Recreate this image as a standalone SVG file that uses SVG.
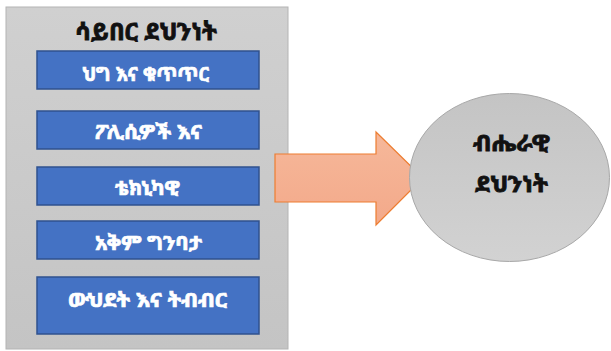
<svg xmlns="http://www.w3.org/2000/svg" width="611" height="351" viewBox="0 0 611 351">
<defs>
<linearGradient id="gGray" x1="0" y1="0" x2="0" y2="1"><stop offset="0" stop-color="#d0d0d0"/><stop offset="1" stop-color="#c4c4c4"/></linearGradient>
<linearGradient id="gArrow" x1="0" y1="0" x2="0" y2="1"><stop offset="0" stop-color="#f6b89a"/><stop offset="1" stop-color="#f3a98a"/></linearGradient>
<linearGradient id="gEll" x1="0" y1="0" x2="0" y2="1"><stop offset="0" stop-color="#c4c4c4"/><stop offset="1" stop-color="#d2d2d2"/></linearGradient>
</defs>
<style>
.t{font-family:"Noto Sans Ethiopic","Abyssinica SIL","DejaVu Sans","Noto Sans",sans-serif;font-weight:bold;text-anchor:middle;dominant-baseline:central}
.blue rect{fill:#4472c4;stroke:#2f528f;stroke-width:1.5}
.blue text{fill:#ffffff;stroke:#ffffff;stroke-width:0.7;font-size:20px}
.dark{fill:#111111;stroke:#111111;stroke-width:0.8}
</style>
<rect width="611" height="351" fill="#ffffff"/>
<g id="container">
<rect x="6" y="7" width="282" height="342" fill="url(#gGray)" stroke="#b4b4b4" stroke-width="1"/>
<text class="t dark" x="146" y="30" font-size="24" textLength="142" lengthAdjust="spacingAndGlyphs">ሳይበር ደህንነት</text>
</g>
<g id="box1" class="blue"><rect x="37" y="51" width="222" height="38"/><text class="t" x="145.5" y="73" textLength="127" lengthAdjust="spacingAndGlyphs">ህግ እና ቁጥጥር</text></g>
<g id="box2" class="blue"><rect x="37" y="111" width="222" height="38"/><text class="t" x="148.5" y="131.5" textLength="107" lengthAdjust="spacingAndGlyphs">ፖሊሲዎች እና</text></g>
<g id="box3" class="blue"><rect x="37" y="167" width="222" height="38"/><text class="t" x="147.5" y="187.5" textLength="65" lengthAdjust="spacingAndGlyphs">ቴክኒካዊ</text></g>
<g id="box4" class="blue"><rect x="37" y="221" width="222" height="38"/><text class="t" x="148.5" y="242.5" textLength="107" lengthAdjust="spacingAndGlyphs">አቅም ግንባታ</text></g>
<g id="box5" class="blue"><rect x="37" y="277" width="222" height="57"/><text class="t" x="147.5" y="299.5" textLength="159" lengthAdjust="spacingAndGlyphs">ውህደት እና ትብብር</text></g>
<g id="connectors">
<path d="M275,154 H376 V132 L423,178 L376,225 V202 H275 Z" fill="url(#gArrow)" stroke="#ed7d31" stroke-width="1.2"/>
</g>
<g id="outcome">
<ellipse cx="509.5" cy="177.5" rx="100" ry="84" fill="url(#gEll)" stroke="#a8a8a8" stroke-width="1"/>
<text class="t dark" x="511.5" y="141.5" font-size="23" textLength="77" lengthAdjust="spacingAndGlyphs">ብሔራዊ</text>
<text class="t dark" x="511.5" y="182.5" font-size="23" textLength="73" lengthAdjust="spacingAndGlyphs">ደህንነት</text>
</g>
</svg>
